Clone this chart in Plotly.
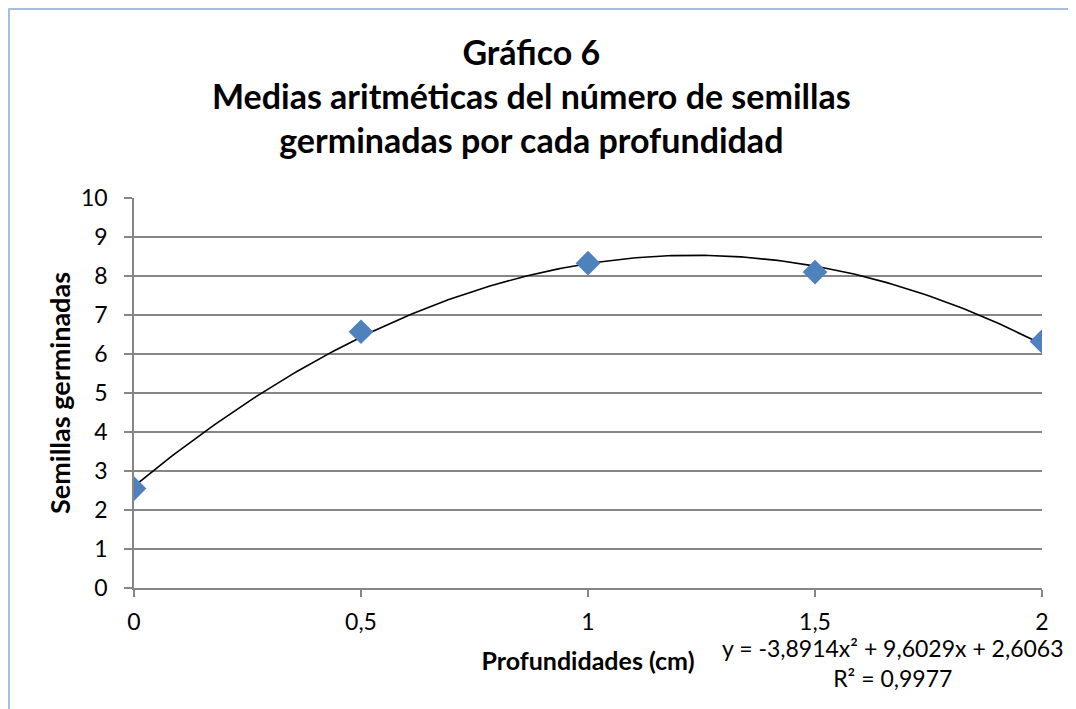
import numpy as np
import plotly.graph_objects as go

# depths (cm) and mean germinated seeds
profundidades = [0, 0.5, 1, 1.5, 2]
semillas = [2.55, 6.57, 8.33, 8.10, 6.32]

# polynomial trendline (order 2) as reported on the chart
coef_a, coef_b, coef_c = -3.8914, 9.6029, 2.6063
r2 = 0.9977

FONT = "Lato, Open Sans, sans-serif"
BORDER = "#A7BFDE"

xs = np.linspace(min(profundidades), max(profundidades), 200)
ys = coef_a * xs ** 2 + coef_b * xs + coef_c

fig = go.Figure()
fig.add_trace(go.Scatter(
    x=xs, y=ys, mode="lines",
    line=dict(color="black", width=1.6),
    hoverinfo="skip", showlegend=False,
))
fig.add_trace(go.Scatter(
    x=profundidades, y=semillas, mode="markers",
    marker=dict(symbol="diamond", size=19, color="#4F81BD"),
    showlegend=False,
))

eq = (f"y = {coef_a:.4f}x² + {coef_b:.4f}x + {coef_c:.4f}".replace(".", ",")
      + "<br>" + f"R² = {r2:.4f}".replace(".", ","))

# page body has an 8px margin, so the figure is a bit smaller than the window
fig.update_layout(
    width=1068, height=701,
    margin=dict(l=126, r=34, t=190, b=121),
    paper_bgcolor="white", plot_bgcolor="white",
    separators=",.",
    font=dict(family=FONT, color="black", size=23),
    title=dict(
        text="<b>Gráfico 6<br>Medias aritméticas del número de semillas<br>germinadas por cada profundidad</b>",
        x=0.49, xanchor="center", y=0.919, yanchor="top",
        font=dict(family=FONT, size=34, color="black"),
    ),
    xaxis=dict(
        range=[0, 2], tickvals=[0, 0.5, 1, 1.5, 2],
        showgrid=False, zeroline=False,
        showline=True, linecolor="#868686", linewidth=1.5,
        ticks="outside", ticklen=7, tickcolor="#868686", tickwidth=1.5,
        tickfont=dict(size=23), tickformat=".1~f", ticklabelstandoff=6,
        title=dict(text="<b>Profundidades (cm)</b>", font=dict(size=25), standoff=18),
    ),
    yaxis=dict(
        range=[0, 10], dtick=1,
        showgrid=True, gridcolor="#868686", gridwidth=1.5,
        zeroline=False,
        showline=True, linecolor="#868686", linewidth=1.5,
        ticks="outside", ticklen=8, tickcolor="#868686", tickwidth=1.5,
        tickfont=dict(size=23), ticklabelstandoff=12,
        title=dict(text="<b>Semillas germinadas</b>", font=dict(size=27), standoff=3),
    ),
    annotations=[dict(
        text=eq, xref="paper", yref="paper", x=0.836, y=-0.114,
        xanchor="center", yanchor="top", showarrow=False,
        font=dict(size=23), align="center",
    )],
    shapes=[
        dict(type="line", xref="paper", yref="paper", x0=-0.1382, x1=1.05,
             y0=1.4859, y1=1.4859, line=dict(color=BORDER, width=3)),
        dict(type="line", xref="paper", yref="paper", x0=-0.1382, x1=-0.1382,
             y0=1.4859, y1=-0.4, line=dict(color=BORDER, width=3)),
    ],
)

fig.write_html("out.html")
